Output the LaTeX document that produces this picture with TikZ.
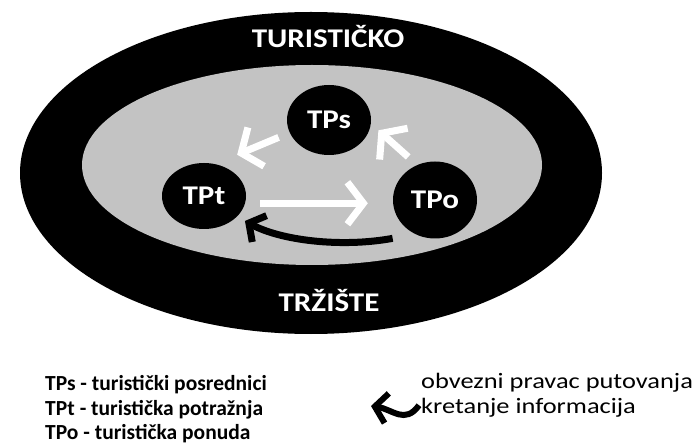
\documentclass[tikz,border=0pt]{standalone}
\usepackage{fontspec}
\newfontfamily\calibri[FakeStretch=1.15]{Carlito}
\newfontfamily\calibril{Carlito}
\newfontfamily\calibriw[FakeStretch=1.2]{Carlito}
\usetikzlibrary{shapes.geometric,arrows.meta}
\definecolor{siva}{RGB}{195,195,195}
\tikzset{krug/.style={
  ellipse,
  fill=black,
  inner sep=0pt,minimum width=84pt}}
\tikzset{natpis/.style={text=white,font=\calibri\bfseries\fontsize{27}{27}\selectfont}}
\tikzset{legenda/.style={inner sep=0pt,font=\calibril\bfseries\fontsize{21.5}{21.5}\selectfont}}
\tikzset{legendaw/.style={inner sep=0pt,font=\calibriw\fontsize{22}{22}\selectfont}}
\tikzset{bijela/.style={draw=white,line width=7pt,-{Straight Barb[length=16pt,width=42pt]}}}
\tikzset{crna/.style={draw=black,line width=7pt,-{Straight Barb[length=12pt,width=30pt]}}}

\begin{document}
\begin{tikzpicture}[x=1pt,y=-1pt]
  \useasboundingbox (0,0) rectangle (696,446);
  % trziste
  \node[ellipse,fill=black,inner sep=0pt,minimum width=582pt,minimum height=322pt] (trziste) at (311,173) {};
  \node[ellipse,fill=siva,inner sep=0pt,minimum width=460pt,minimum height=200pt] (unutra) at (312,165) {};
  \node[natpis] (gore) at (328,37) {TURISTIČKO};
  \node[natpis] (dolje) at (329,300) {TRŽIŠTE};
  % sudionici
  \foreach \n/\p/\h/\l in {
      tps/{(329,120)}/70/TPs,
      tpt/{(204,196)}/66/TPt,
      tpo/{(435,200)}/77/TPo }
    \node[krug,natpis,minimum height=\h pt] (\n) at \p {\l};
  \draw[bijela,shorten <=12pt,shorten >=24pt] (tps.198) -- (tpt.71);
  \draw[bijela,shorten <=12pt,shorten >=10pt] (tpo.117) -- (tps.-5);
  \draw[bijela,shorten <=15pt,shorten >=25pt] (tpt.-10) -- (tpt.-10 -| tpo.west);
  \draw[crna,shorten <=23pt,shorten >=9pt] (tpo.240) .. controls (340,248) and (280,240) .. (tpt.-32);
  % legenda
  \foreach \n/\y/\l in {
      lps/390/{TPs - turistički posrednici},
      lpt/415/{TPt - turistička potražnja},
      lpo/439/{TPo - turistička ponuda} }
    \node[legenda,anchor=base west] (\n) at (45,\y) {\l};
  \node[legendaw,anchor=base west] (obv) at (421,388) {obvezni pravac putovanja};
  \node[legendaw,anchor=base west] (kret) at (421,413) {kretanje informacija};
  \coordinate (vrh) at (371,406);
  \draw[crna,line width=6pt] ([xshift=-2pt,yshift=2pt]kret.west) .. controls (405,425) and (392,409) .. (vrh);
\end{tikzpicture}
\end{document}
